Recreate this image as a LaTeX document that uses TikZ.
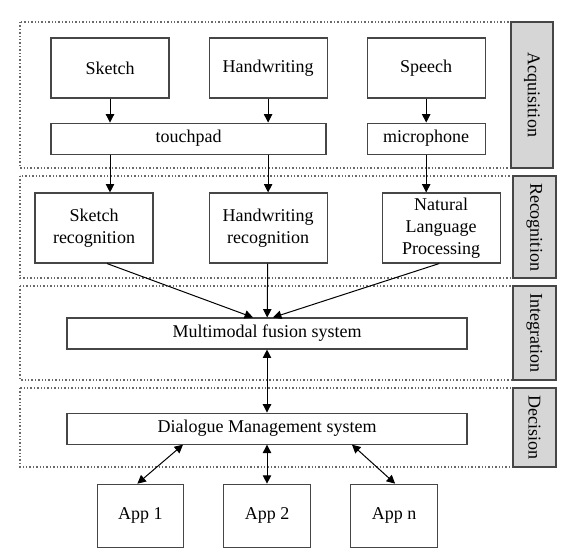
\documentclass[tikz,border=0pt]{standalone}
\usepackage{fontspec}
\setmainfont{Liberation Serif}
\usetikzlibrary{positioning, arrows.meta}
\definecolor{boxline}{RGB}{70,70,70}
\definecolor{bandline}{RGB}{105,105,105}
\definecolor{taggray}{RGB}{214,214,214}

\begin{document}
\begin{tikzpicture}[
  x=0.5pt, y=0.5pt,
  node distance=19.5pt,
  box/.style={draw=boxline, line width=0.55pt, fill=white, minimum width=59pt,
              minimum height=30pt, align=center, inner sep=1pt,
              font=\fontsize{9}{11}\selectfont},
  bar/.style={box, minimum height=15.5pt},
  band/.style={draw=bandline, densely dotted, line width=0.7pt},
  tag/.style={draw=boxline, fill=taggray, line width=0.55pt, rotate=-90,
              minimum height=21.5pt, inner sep=0pt, font=\fontsize{9}{11}\selectfont},
  arrow/.style={-{Triangle[length=4.2pt, width=4.2pt]}, line width=0.5pt},
  both/.style={{Triangle[length=4.2pt, width=4.2pt]}-{Triangle[length=4.2pt, width=4.2pt]}, line width=0.5pt}
]
  \useasboundingbox (0,0) rectangle (571,-550);

  % layers
  \draw[band] (20,-22) rectangle (511,-168);
  \draw[band] (20,-176) rectangle (513,-278);
  \draw[band] (20,-286) rectangle (513,-380);
  \draw[band] (20,-388) rectangle (513,-467);
  \node[tag, minimum width=73pt, minimum height=21pt] (acq) at (532,-95) {Acquisition};
  \node[tag, minimum width=51pt] (rec) at (534.5,-227) {Recognition};
  \node[tag, minimum width=47pt] (integ) at (534.5,-333) {Integration};
  \node[tag, minimum width=39.5pt] (dec) at (534.5,-427.5) {Decision};

  % input
  \node[box] (sketch) at (110,-68) {Sketch};
  \node[box, right=of sketch] (hand) {Handwriting};
  \node[box, right=of hand] (speech) {Speech};
  \node[bar, minimum width=137.5pt, below=12pt of sketch.south west, anchor=north west] (touchpad) {touchpad};
  \node[bar, below=12pt of speech] (mic) {microphone};

  % recognizers
  \node[box, minimum height=35pt] (skrec) at (94,-228) {Sketch\\recognition};
  \node[box, minimum height=35pt, right=27.5pt of skrec] (hwrec) {Handwriting\\recognition};
  \node[box, minimum height=35pt, right=27pt of hwrec] (nlp) {Natural\\Language\\Processing};

  % fusion, dialogue, apps
  \node[bar, minimum width=200pt] (fusion) at (267,-333.5) {Multimodal fusion system};
  \node[bar, minimum width=200pt, below=31.5pt of fusion] (dialog) {Dialogue Management system};
  \node[box, minimum width=43.5pt, minimum height=31.5pt, below=19.5pt of dialog] (app2) {App 2};
  \node[box, minimum width=43pt, minimum height=31.5pt, left=of app2] (app1) {App 1};
  \node[box, minimum width=43.5pt, minimum height=31.5pt, right=of app2] (appn) {App n};

  \draw[arrow] (sketch) -- (sketch |- touchpad.north);
  \draw[arrow] (hand) -- (hand |- touchpad.north);
  \draw[arrow] (speech) -- (mic);
  \draw[arrow] (touchpad.south -| sketch) -- (skrec.north -| sketch);
  \draw[arrow] (touchpad.south -| hand) -- (hwrec);
  \draw[arrow] (mic) -- (nlp.north -| mic);
  \draw[arrow] ([xshift=6.5pt]skrec.south) -- ([xshift=-7pt]fusion.north);
  \draw[arrow] (hwrec) -- (fusion);
  \draw[arrow] ([xshift=-1pt]nlp.south) -- ([xshift=3pt]fusion.north);
  \draw[both] (fusion) -- (dialog);
  \draw[both] ([xshift=-42pt]dialog.south) -- ([xshift=-1.5pt]app1.north);
  \draw[both] (dialog) -- (app2);
  \draw[both] ([xshift=42.5pt]dialog.south) -- ([xshift=0.5pt]appn.north);
\end{tikzpicture}
\end{document}
